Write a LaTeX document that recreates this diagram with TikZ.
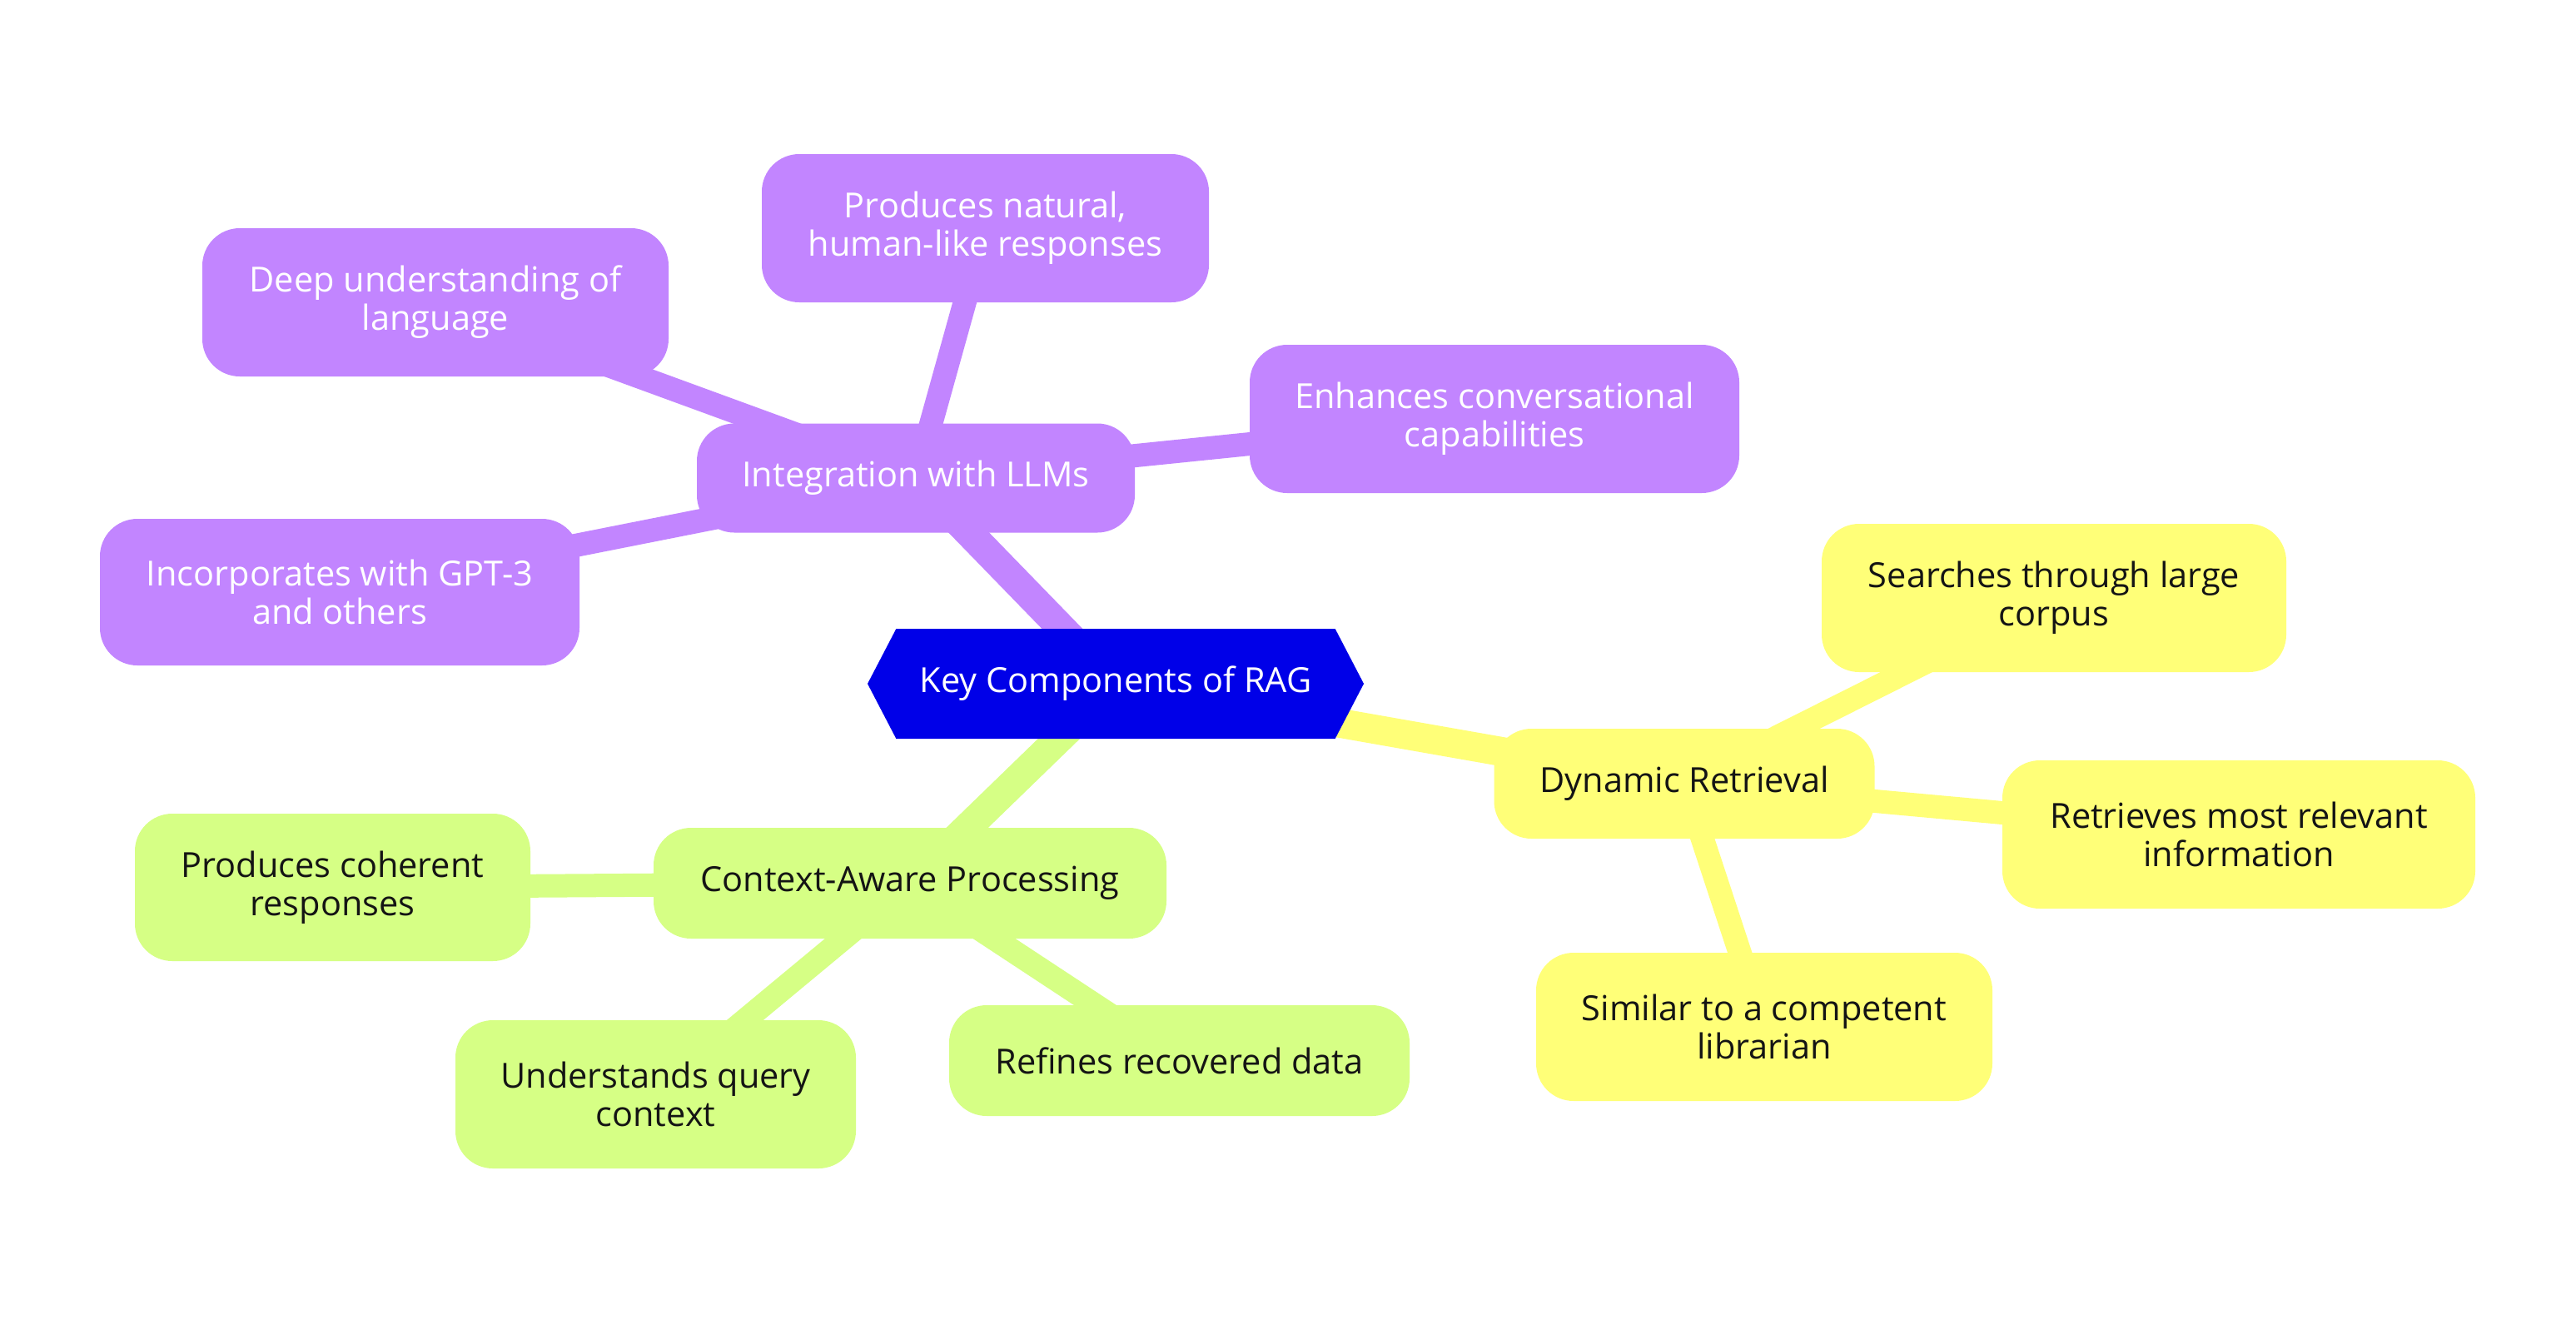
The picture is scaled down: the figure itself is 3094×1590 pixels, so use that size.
\documentclass[tikz,border=0pt]{standalone}
\usepackage{fontspec}
\setmainfont{Open Sans}
\usetikzlibrary{shapes.symbols,backgrounds}
\definecolor{cpur}{RGB}{194,133,255}
\definecolor{cyel}{RGB}{255,255,120}
\definecolor{cgrn}{RGB}{214,255,133}
\definecolor{cblu}{RGB}{0,0,232}
\definecolor{ctxt}{RGB}{20,20,20}
\begin{document}
\begin{tikzpicture}[x=0.01cm,y=-0.01cm,
  every node/.style={font=\fontsize{11.8}{13.1}\selectfont, align=center, inner sep=0pt},
  sz/.style 2 args={minimum width=#1*0.01cm, minimum height=#2*0.01cm},
  pbox/.style={rounded corners=0.45cm, fill=cpur, text=white},
  ybox/.style={rounded corners=0.45cm, fill=cyel, text=ctxt},
  gbox/.style={rounded corners=0.45cm, fill=cgrn, text=ctxt},
  mainedge/.style={line width=0.35cm},
  subedge/.style={line width=0.28cm}]
\useasboundingbox (0,0) rectangle (3094,1590);
% root
\node[signal, signal to=east and west, signal pointer angle=125, fill=cblu, text=white, sz={596}{132}] (ctr) at (1340,821) {Key Components of RAG};
% purple branch
\node[pbox, sz={526}{131}] (llm) at (1100,574) {Integration with LLMs};
\node[pbox, sz={560}{178}] (deep) at (523,363) {Deep understanding of\\language};
\node[pbox, sz={537}{178}] (nat) at (1183.5,274) {Produces natural,\\human-like responses};
\node[pbox, sz={588}{178}] (enh) at (1795,503) {Enhances conversational\\capabilities};
\node[pbox, sz={576}{176}] (gpt) at (408,711) {Incorporates with GPT-3\\and others};
% green branch
\node[gbox, sz={616}{133}] (ctx) at (1093,1060.5) {Context-Aware Processing};
\node[gbox, sz={475}{177}] (coh) at (399.5,1065.5) {Produces coherent\\responses};
\node[gbox, sz={481}{178}] (und) at (787.5,1314) {Understands query\\context};
\node[gbox, sz={553}{133}] (ref) at (1416.5,1273.5) {Refines recovered data};
% yellow branch
\node[ybox, sz={457}{132}] (dyn) at (2023,941) {Dynamic Retrieval};
\node[ybox, sz={558}{178}] (sea) at (2467,718) {Searches through large\\corpus};
\node[ybox, sz={568}{178}] (ret) at (2689,1002) {Retrieves most relevant\\information};
\node[ybox, sz={548}{178}] (sim) at (2119,1233) {Similar to a competent\\librarian};
\begin{pgfonlayer}{background}
\fill[white] (0,0) rectangle (3094,1590);
\draw[mainedge, cpur] (ctr.center) -- (llm.center);
\draw[mainedge, cgrn] (ctr.center) -- (ctx.center);
\draw[mainedge, cyel] (ctr.center) -- (dyn.center);
\draw[subedge, cpur] (llm.center) -- (deep.center);
\draw[subedge, cpur] (llm.center) -- (nat.center);
\draw[subedge, cpur] (llm.center) -- (enh.center);
\draw[subedge, cpur] (llm.center) -- (gpt.center);
\draw[subedge, cgrn] (ctx.center) -- (coh.center);
\draw[subedge, cgrn] (ctx.center) -- (und.center);
\draw[subedge, cgrn] (ctx.center) -- (ref.center);
\draw[subedge, cyel] (dyn.center) -- (sea.center);
\draw[subedge, cyel] (dyn.center) -- (ret.center);
\draw[subedge, cyel] (dyn.center) -- (sim.center);
\end{pgfonlayer}
\end{tikzpicture}
\end{document}
